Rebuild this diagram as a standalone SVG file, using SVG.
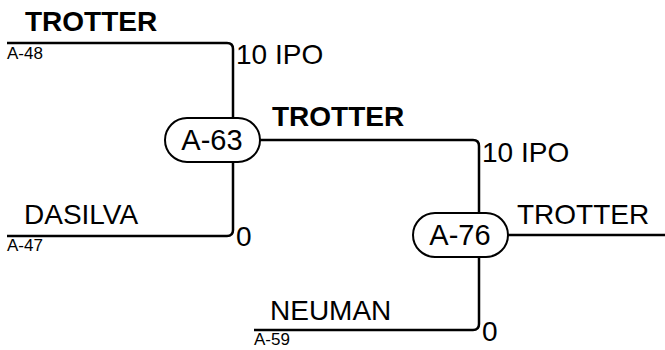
<svg xmlns="http://www.w3.org/2000/svg" width="665" height="350" viewBox="0 0 665 350">
<style>
.ln{fill:none;stroke:#000;stroke-width:2.5}
.pill{fill:#fff;stroke:#000;stroke-width:2}
.big{font-family:"Liberation Sans",Arial,sans-serif;font-size:28px;fill:#000}
.bold{font-weight:bold}
.sm{font-family:"Liberation Sans",Arial,sans-serif;font-size:17px;fill:#000}
.nt{font-family:"Liberation Sans",Arial,sans-serif;font-size:29px;fill:#000;text-anchor:middle}
</style>
<rect width="665" height="350" fill="#fff"/>
<g id="connectors">
<path class="ln" d="M7 43 H227 Q233 43 233 49 V119"/>
<path class="ln" d="M7 236 H227 Q233 236 233 230 V161"/>
<path class="ln" d="M259 140 H473 Q479 140 479 146 V214"/>
<path class="ln" d="M254 330 H473 Q479 330 479 324 V256"/>
<path class="ln" d="M507 235 H665"/>
</g>
<g id="labels">
<text class="big bold" x="25" y="31">TROTTER</text>
<text class="sm" x="7" y="59">A-48</text>
<text class="big" x="236" y="64">10 IPO</text>
<text class="big" x="24" y="224">DASILVA</text>
<text class="sm" x="7" y="251">A-47</text>
<text class="big" x="236" y="246">0</text>
<text class="big bold" x="272" y="126">TROTTER</text>
<text class="big" x="482" y="162">10 IPO</text>
<text class="big" x="517" y="224">TROTTER</text>
<text class="big" x="270" y="320">NEUMAN</text>
<text class="sm" x="254" y="345">A-59</text>
<text class="big" x="482" y="341">0</text>
</g>
<g id="node-A-63">
<rect class="pill" x="165" y="118" width="95" height="44" rx="22"/>
<text class="nt" x="212" y="150">A-63</text>
</g>
<g id="node-A-76">
<rect class="pill" x="413" y="213" width="95" height="44" rx="22"/>
<text class="nt" x="460" y="245">A-76</text>
</g>
</svg>
